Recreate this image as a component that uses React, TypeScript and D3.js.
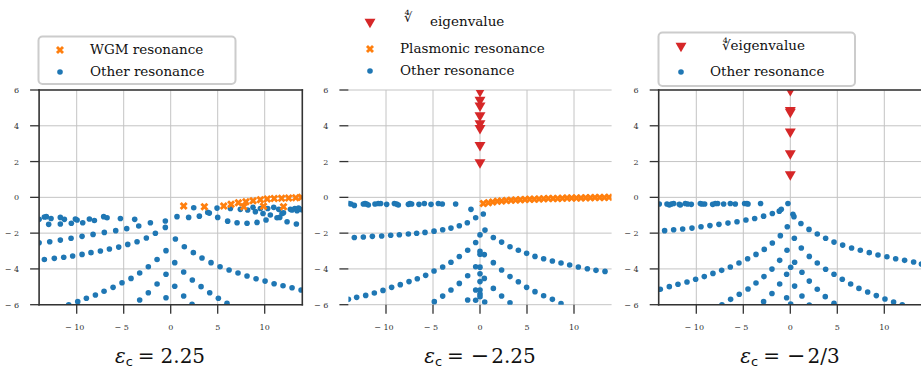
import React, { useEffect, useRef } from 'react';
import * as d3 from 'd3';

// axis ticks
const xTicks = [-10, -5, 0, 5, 10];
const yTicks = [-6, -4, -2, 0, 2, 4, 6];

// eps_c = 2.25
const p1Wgm = [
  [1.38, -0.49], [3.58, -0.52], [5.64, -0.49], [6.42, -0.39], [7.2, -0.3], [7.77, -0.52],
  [8.0, -0.24], [8.76, -0.19], [9.54, -0.13], [9.87, -0.5], [10.27, -0.09], [11.01, -0.07],
  [11.8, -0.05], [12.0, -0.52], [12.55, -0.03], [13.3, -0.02], [13.9, 0.0],
];
const p1Other = [
  [-14.0, -1.23], [-13.44, -1.1], [-13.23, -1.08], [-12.73, -1.18], [-11.74, -1.12], [-11.31, -1.23],
  [-10.14, -1.21], [-9.96, -1.27], [-8.65, -1.21], [-8.12, -1.29], [-7.13, -1.08], [-6.77, -1.14],
  [-5.35, -1.18], [-3.83, -1.23],
  [-12.98, -1.51], [-11.74, -1.49], [-10.57, -1.45], [-9.36, -1.42],
  [-14.0, -2.54], [-12.87, -2.48], [-11.74, -2.39], [-10.6, -2.29], [-9.43, -2.18], [-8.26, -2.07],
  [-7.06, -1.96], [-5.85, -1.86], [-4.68, -1.75], [-3.4, -1.6], [-2.16, -1.42], [-0.57, -1.32],
  [-13.44, -3.47], [-12.38, -3.41], [-11.38, -3.35], [-10.43, -3.28], [-9.43, -3.19], [-8.48, -3.09],
  [-7.48, -3.0], [-6.52, -2.89], [-5.53, -2.78], [-4.57, -2.63], [-3.58, -2.48], [-2.59, -2.27],
  [-1.63, -2.01], [-0.57, -1.68],
  [-10.85, -6.01], [-9.89, -5.83], [-8.97, -5.64], [-8.01, -5.46], [-7.09, -5.25], [-6.13, -5.03],
  [-5.18, -4.77], [-4.22, -4.53], [-3.3, -4.23], [-2.38, -3.88], [-1.45, -3.47], [-0.5, -2.98],
  [0.5, -2.33], [1.45, -2.76], [2.41, -3.09], [3.33, -3.39], [4.29, -3.65], [5.25, -3.88],
  [6.21, -4.06], [7.16, -4.23], [8.12, -4.4], [9.08, -4.55], [10.04, -4.68], [11.0, -4.83],
  [11.95, -4.94], [12.91, -5.05], [13.87, -5.18],
  [-3.3, -5.74], [-2.38, -5.33], [-1.45, -4.84], [-0.5, -4.3],
  [0.43, -3.65], [1.38, -4.17], [2.3, -4.62], [3.23, -4.99], [4.15, -5.33], [5.07, -5.64], [5.99, -5.92],
  [-0.5, -5.61], [0.43, -4.97], [1.38, -5.51], [2.27, -5.98],
  [0.67, -1.08], [1.91, -1.12], [2.45, -0.58], [3.05, -1.05], [3.94, -0.84], [4.11, -0.88],
  [4.93, -0.6], [5.0, -1.12], [6.06, -1.33], [6.35, -0.62], [7.06, -1.42], [7.41, -0.67],
  [8.12, -1.45], [8.19, -0.71], [8.76, -0.56], [9.01, -0.8], [9.18, -1.4], [9.54, -0.62],
  [9.82, -0.9], [10.14, -1.27], [10.32, -0.62], [10.6, -0.99], [10.96, -0.56], [11.31, -1.14],
  [11.49, -0.67], [11.6, -1.12], [11.84, -0.9], [12.0, -0.86], [12.38, -1.36], [12.73, -0.67],
  [12.91, -0.71], [13.2, -0.62], [13.37, -1.49], [13.44, -0.75], [13.6, -0.6], [13.79, -0.67], [14.0, -0.7],
];

// eps_c = -2.25
const p2Eigen = [[0, 5.94], [0, 5.44], [0, 5.12], [0, 4.58], [0, 4.13], [0, 3.87], [0, 2.92], [0, 1.95]];
const p2Plasmonic = [
  [0.35, -0.34], [0.89, -0.3], [1.35, -0.26], [1.84, -0.22], [2.3, -0.2], [2.8, -0.18], [3.3, -0.16],
  [3.79, -0.15], [4.29, -0.13], [4.79, -0.12], [5.28, -0.11], [5.78, -0.1], [6.28, -0.09], [6.77, -0.08],
  [7.27, -0.07], [7.77, -0.06], [8.26, -0.06], [8.76, -0.05], [9.26, -0.04], [9.75, -0.04], [10.25, -0.03],
  [10.74, -0.03], [11.24, -0.02], [11.74, -0.02], [12.23, -0.01], [12.73, -0.01], [13.23, -0.01], [13.72, 0.0],
];
const p2Other = [
  [-13.94, -0.34], [-13.72, -0.37], [-13.37, -0.45], [-12.41, -0.37], [-12.23, -0.34], [-12.06, -0.37],
  [-11.88, -0.43], [-11.17, -0.37], [-10.82, -0.34], [-10.57, -0.34], [-9.93, -0.39], [-9.11, -0.34],
  [-8.87, -0.37], [-8.69, -0.43], [-7.62, -0.39], [-7.45, -0.34], [-7.27, -0.37], [-6.49, -0.39],
  [-5.92, -0.34], [-5.21, -0.39], [-4.43, -0.34], [-4.01, -0.37], [-2.59, -0.37], [-0.96, -0.67],
  [-13.37, -2.24], [-12.41, -2.22], [-11.45, -2.18], [-10.46, -2.16], [-9.5, -2.12], [-8.58, -2.09],
  [-7.62, -2.05], [-6.74, -2.01], [-5.85, -1.96], [-4.89, -1.89], [-3.97, -1.81], [-3.09, -1.72],
  [-2.2, -1.59], [-1.35, -1.42], [-0.46, -1.14], [0.35, -0.93],
  [-14.0, -5.7], [-13.12, -5.59], [-12.16, -5.48], [-11.24, -5.35], [-10.32, -5.2], [-9.4, -5.03],
  [-8.48, -4.88], [-7.55, -4.71], [-6.67, -4.55], [-5.78, -4.36], [-4.89, -4.12], [-3.97, -3.89],
  [-3.09, -3.63], [-2.2, -3.31], [-1.31, -2.96], [-0.46, -2.52], [0.0, -2.1],
  [0.53, -1.83], [1.42, -2.24], [2.3, -2.5], [3.19, -2.76], [4.08, -2.96], [4.96, -3.13], [5.85, -3.3],
  [6.77, -3.43], [7.7, -3.56], [8.62, -3.67], [9.54, -3.78], [10.46, -3.89], [11.42, -3.99],
  [12.34, -4.08], [13.3, -4.14],
  [-4.86, -5.83], [-3.97, -5.52], [-3.09, -5.18], [-2.2, -4.81], [-1.31, -4.38], [-0.46, -3.88],
  [-1.31, -5.74], [-0.46, -5.18], [-0.46, -5.75],
  [0.0, -3.02], [0.0, -3.18], [0.46, -3.2], [0.0, -3.9], [0.0, -4.27], [0.0, -4.71], [0.0, -5.18],
  [0.0, -5.4], [0.0, -5.55], [0.5, -5.85],
  [1.42, -3.65], [2.3, -4.06], [3.19, -4.43], [4.08, -4.72], [4.96, -5.03], [5.85, -5.27], [6.77, -5.5],
  [7.7, -5.7], [8.62, -5.93],
  [0.46, -4.53], [1.42, -5.09], [2.3, -5.51], [3.19, -5.89],
];

// eps_c = -2/3
const p3Eigen = [[0, 5.99], [0, 4.88], [0, 4.78], [0, 3.67], [0, 2.46], [0, 1.28]];
const p3Other = [
  [-13.94, -0.37], [-13.12, -0.37], [-12.87, -0.43], [-12.66, -0.37], [-12.41, -0.34], [-11.81, -0.39],
  [-11.7, -0.43], [-11.17, -0.34], [-10.92, -0.37], [-10.53, -0.39], [-9.57, -0.34], [-9.4, -0.37],
  [-9.11, -0.37], [-8.26, -0.39], [-7.98, -0.34], [-7.73, -0.34], [-7.09, -0.37], [-6.38, -0.34],
  [-5.85, -0.37], [-4.86, -0.34], [-4.61, -0.34], [-4.5, -0.37], [-3.16, -0.34], [-0.25, -0.34],
  [-13.37, -1.86], [-12.41, -1.81], [-11.45, -1.77], [-10.46, -1.72], [-9.5, -1.64], [-8.55, -1.58],
  [-7.59, -1.51], [-6.63, -1.44], [-5.67, -1.36], [-4.72, -1.27], [-3.79, -1.18], [-2.84, -1.05],
  [-1.91, -0.9], [-1.17, -0.77], [-0.96, -0.67],
  [0.28, -0.95], [0.39, -1.08], [1.13, -1.46], [1.99, -1.79], [2.87, -2.05], [3.76, -2.29], [4.65, -2.5],
  [5.57, -2.67], [6.52, -2.83], [7.45, -2.96], [8.4, -3.09], [9.33, -3.22], [10.28, -3.32],
  [11.21, -3.43], [12.16, -3.52], [13.12, -3.61], [13.94, -3.73],
  [-13.83, -5.14], [-12.87, -4.99], [-11.95, -4.86], [-10.99, -4.73], [-10.07, -4.58], [-9.15, -4.43],
  [-8.23, -4.25], [-7.3, -4.08], [-6.38, -3.89], [-5.46, -3.67], [-4.54, -3.43], [-3.65, -3.19],
  [-2.77, -2.91], [-1.91, -2.55], [-1.06, -2.14], [-0.32, -1.64],
  [0.43, -2.29], [1.17, -2.83], [2.02, -3.3], [2.87, -3.67], [3.76, -4.02], [4.65, -4.3], [5.53, -4.58],
  [6.42, -4.84], [7.3, -5.09], [8.23, -5.29], [9.15, -5.49], [10.07, -5.68], [10.99, -5.85], [11.91, -6.0],
  [-7.27, -6.0], [-6.35, -5.7], [-5.43, -5.42], [-4.5, -5.12], [-3.65, -4.79], [-2.8, -4.43],
  [-1.95, -4.01], [-1.13, -3.52], [-0.35, -2.96],
  [0.46, -3.63], [1.24, -4.19], [2.02, -4.68], [2.87, -5.14], [3.72, -5.55], [4.65, -5.92],
  [-2.84, -5.83], [-1.95, -5.37], [-1.13, -4.84], [-0.39, -4.3],
  [0.46, -4.96], [1.24, -5.51], [2.02, -6.02],
  [-0.39, -5.61], [0.04, -3.91], [0.04, -5.96],
];

// title values (eps_c) : sign and magnitude
const titleSigns = ['', '\u2212', '\u2212'];
const titleValues = ['2.25', '2.25', '2/3'];
const legend1 = ['WGM resonance', 'Other resonance'];
const legend2 = ['eigenvalue', 'Plasmonic resonance', 'Other resonance'];
const legend3 = ['\u221ceigenvalue', 'Other resonance'];

const BLUE = '#1f77b4';
const ORANGE = '#ff7f0e';
const RED = '#d62728';
const SERIF = "'DejaVu Serif', serif";

const App = () => {
  const ref = useRef(null);

  useEffect(() => {
    const svg = d3.select(ref.current);
    svg.selectAll('*').remove();

    const top = 90;
    const plotH = 214.7;
    const plotW = 263.2;

    const drawMarker = (g, kind, x, y) => {
      if (kind === 'dot') {
        g.append('circle').attr('cx', x).attr('cy', y).attr('r', 2.8).attr('fill', BLUE);
      } else if (kind === 'x') {
        g.append('path')
          .attr('d', d3.symbol(d3.symbolCross, 40)())
          .attr('transform', `translate(${x},${y}) rotate(45)`)
          .attr('fill', ORANGE);
      } else {
        g.append('path')
          .attr('d', d3.symbol(d3.symbolTriangle, 52)())
          .attr('transform', `translate(${x},${y}) rotate(180)`)
          .attr('fill', RED);
      }
    };

    const panels = [
      { left: 39.1, other: p1Other, extra: [[p1Wgm, 'x']], spines: ['left', 'right', 'top', 'bottom'], titleX: 160 },
      { left: 348.4, other: p2Other, extra: [[p2Plasmonic, 'x'], [p2Eigen, 'tri']], spines: [], titleX: 480 },
      { left: 658.7, other: p3Other, extra: [[p3Eigen, 'tri']], spines: ['left', 'right', 'top', 'bottom'], titleX: 790 },
    ];

    panels.forEach((p, i) => {
      const x = d3.scaleLinear().domain([-14, 14]).range([p.left, p.left + plotW]);
      const y = d3.scaleLinear().domain([-6, 6]).range([top + plotH, top]);
      const g = svg.append('g');

      g.append('clipPath')
        .attr('id', `clip${i}`)
        .append('rect')
        .attr('x', p.left)
        .attr('y', top)
        .attr('width', plotW)
        .attr('height', plotH);

      // grid
      g.selectAll('.gx')
        .data(xTicks)
        .enter()
        .append('line')
        .attr('x1', (d) => x(d))
        .attr('x2', (d) => x(d))
        .attr('y1', top)
        .attr('y2', top + plotH)
        .attr('stroke', '#c4c4c4')
        .attr('stroke-width', 1);
      g.selectAll('.gy')
        .data(yTicks)
        .enter()
        .append('line')
        .attr('x1', p.left)
        .attr('x2', p.left + plotW)
        .attr('y1', (d) => y(d))
        .attr('y2', (d) => y(d))
        .attr('stroke', '#c4c4c4')
        .attr('stroke-width', 1);

      const pts = g.append('g').attr('clip-path', `url(#clip${i})`);
      p.other.forEach((d) => drawMarker(pts, 'dot', x(d[0]), y(d[1])));
      p.extra.forEach(([arr, kind]) => arr.forEach((d) => drawMarker(pts, kind, x(d[0]), y(d[1]))));

      // spines
      p.spines.forEach((s) => {
        const l = g.append('line');
        if (s === 'left') l.attr('x1', p.left).attr('x2', p.left).attr('y1', top).attr('y2', top + plotH);
        if (s === 'right') l.attr('x1', p.left + plotW).attr('x2', p.left + plotW).attr('y1', top).attr('y2', top + plotH);
        if (s === 'top') l.attr('x1', p.left).attr('x2', p.left + plotW).attr('y1', top).attr('y2', top);
        if (s === 'bottom') l.attr('x1', p.left).attr('x2', p.left + plotW).attr('y1', top + plotH).attr('y2', top + plotH);
        l.attr('stroke', '#333').attr('stroke-width', 1.6).attr('stroke-linecap', 'square');
      });

      // ticks
      const fmt = (d) => (d < 0 ? `\u2212 ${Math.abs(d)}` : `${d}`);
      xTicks.forEach((t) => {
        g.append('line')
          .attr('x1', x(t)).attr('x2', x(t))
          .attr('y1', top + plotH).attr('y2', top + plotH + 9)
          .attr('stroke', '#333').attr('stroke-width', 1.3);
        g.append('text')
          .attr('x', x(t) + (t < 0 ? -2 : 0))
          .attr('y', top + plotH + 25)
          .attr('text-anchor', 'middle')
          .style('font-family', SERIF)
          .style('font-size', '8px')
          .attr('fill', '#333')
          .text(fmt(t));
      });
      yTicks.forEach((t) => {
        g.append('line')
          .attr('x1', p.left - 9).attr('x2', p.left)
          .attr('y1', y(t)).attr('y2', y(t))
          .attr('stroke', '#333').attr('stroke-width', 1.3);
        g.append('text')
          .attr('x', p.left - 20)
          .attr('y', y(t) + 3)
          .attr('text-anchor', 'end')
          .style('font-family', SERIF)
          .style('font-size', '8px')
          .attr('fill', '#333')
          .text(fmt(t));
      });

      // title
      const tt = g.append('text')
        .attr('x', p.titleX)
        .attr('y', 363)
        .attr('text-anchor', 'middle')
        .style('font-family', SERIF)
        .style('font-size', '20px')
        .attr('fill', '#111');
      tt.append('tspan').style('font-style', 'italic').text('\u03b5');
      tt.append('tspan').style('font-family', "'DejaVu Sans', sans-serif").style('font-size', '13px').attr('dy', 3).text('c');
      tt.append('tspan').attr('dy', -3).attr('dx', 5).text('=');
      if (titleSigns[i]) {
        tt.append('tspan').attr('dx', 7).style('font-size', '22px').text(titleSigns[i]);
        tt.append('tspan').attr('dx', 2).text(titleValues[i]);
      } else {
        tt.append('tspan').attr('dx', 6).text(titleValues[i]);
      }
    });

    // legends
    const legText = (x, y, label) =>
      svg.append('text')
        .attr('x', x)
        .attr('y', y)
        .attr('dy', '0.33em')
        .style('font-family', SERIF)
        .style('font-size', '13.5px')
        .attr('fill', '#111')
        .text(label);

    svg.append('rect')
      .attr('x', 38.5).attr('y', 36.5).attr('width', 197).attr('height', 47.5)
      .attr('rx', 4).attr('fill', 'white').attr('fill-opacity', 0.85)
      .attr('stroke', '#cccccc').attr('stroke-width', 2);
    drawMarker(svg, 'x', 60, 50);
    drawMarker(svg, 'dot', 60, 72);
    legText(90, 50, legend1[0]);
    legText(90, 72, legend1[1]);

    drawMarker(svg, 'tri', 370, 22);
    drawMarker(svg, 'x', 370, 49);
    drawMarker(svg, 'dot', 370, 71);
    svg.append('text')
      .attr('x', 404).attr('y', 22)
      .style('font-family', SERIF)
      .style('font-size', '13px')
      .attr('fill', '#111')
      .text('\u221c');
    legText(430, 22, legend2[0]);
    legText(400, 49, legend2[1]);
    legText(400, 71, legend2[2]);

    svg.append('rect')
      .attr('x', 658.5).attr('y', 32.5).attr('width', 196.5).attr('height', 53.5)
      .attr('rx', 4).attr('fill', 'white').attr('fill-opacity', 0.85)
      .attr('stroke', '#cccccc').attr('stroke-width', 2);
    drawMarker(svg, 'tri', 681, 46);
    drawMarker(svg, 'dot', 681, 72);
    legText(722, 46, legend3[0]);
    legText(710, 72, legend3[1]);
  }, []);

  return (
    <svg
      ref={ref}
      width={921}
      height={372}
      style={{ position: 'absolute', left: 0, top: 0, background: 'white' }}
    />
  );
};

export default App;
